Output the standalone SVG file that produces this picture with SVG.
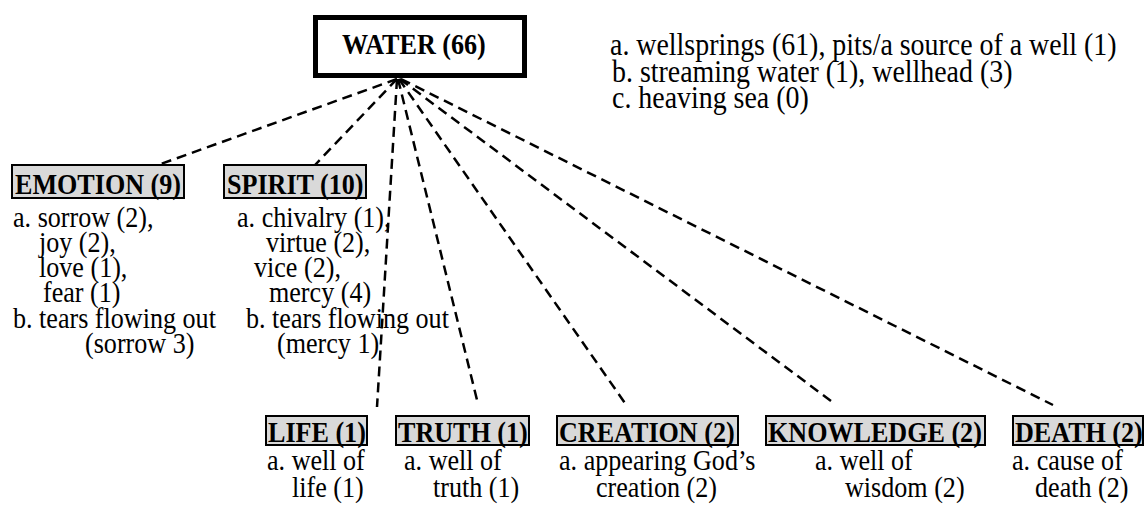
<svg xmlns="http://www.w3.org/2000/svg" width="1147" height="508" viewBox="0 0 1147 508">
  <style>
    text { font-family: "Liberation Serif", "Times New Roman", serif; font-size: 29px; fill: #000; }
    .hd { font-weight: bold; font-size: 30px; }
    .note { font-size: 31px; }
    .cat { fill: #d9d9d9; stroke: #000; stroke-width: 2; }
    .link { stroke: #000; stroke-width: 2.5; stroke-dasharray: 10 6; fill: none; }
  </style>
  <rect width="1147" height="508" fill="#fff"/>

  <!-- dashed links fanning out from the root box -->
  <g id="connectors">
    <line class="link" x1="397" y1="79" x2="158" y2="165"/>
    <line class="link" x1="397" y1="79" x2="315" y2="165"/>
    <line class="link" x1="397" y1="79" x2="377" y2="407"/>
    <line class="link" x1="398" y1="79" x2="478" y2="404"/>
    <line class="link" x1="399" y1="79" x2="627" y2="406"/>
    <line class="link" x1="400" y1="79" x2="835" y2="404"/>
    <line class="link" x1="401" y1="79" x2="1053" y2="405"/>
  </g>

  <!-- root -->
  <g id="water">
    <rect x="315.5" y="17.5" width="209" height="58" fill="#fff" stroke="#000" stroke-width="5"/>
    <text class="hd" transform="translate(342 54) scale(.87 1)">WATER (66)</text>
  </g>

  <g id="water-notes">
    <text class="note" transform="translate(610 55) scale(.9 1)">a. wellsprings (61), pits/a source of a well (1)</text>
    <text class="note" transform="translate(612 82) scale(.9 1)">b. streaming water (1), wellhead (3)</text>
    <text class="note" transform="translate(612 108) scale(.9 1)">c. heaving sea (0)</text>
  </g>

  <g id="emotion">
    <rect class="cat" x="12" y="165" width="172" height="33"/>
    <text class="hd" transform="translate(15 194) scale(.87 1)">EMOTION (9)</text>
    <text transform="translate(13 227) scale(.9 1)">a. sorrow (2),</text>
    <text transform="translate(39 252) scale(.9 1)">joy (2),</text>
    <text transform="translate(39 277) scale(.9 1)">love (1),</text>
    <text transform="translate(43 302) scale(.9 1)">fear (1)</text>
    <text transform="translate(13 328) scale(.9 1)">b. tears flowing out</text>
    <text transform="translate(85 353) scale(.9 1)">(sorrow 3)</text>
  </g>

  <g id="spirit">
    <rect class="cat" x="224" y="165" width="142" height="33"/>
    <text class="hd" transform="translate(227 194) scale(.87 1)">SPIRIT (10)</text>
    <text transform="translate(237 227) scale(.9 1)">a. chivalry (1),</text>
    <text transform="translate(266 252) scale(.9 1)">virtue (2),</text>
    <text transform="translate(254 277) scale(.9 1)">vice (2),</text>
    <text transform="translate(269 302) scale(.9 1)">mercy (4)</text>
    <text transform="translate(246 328) scale(.9 1)">b. tears flowing out</text>
    <text transform="translate(277 353) scale(.9 1)">(mercy 1)</text>
  </g>

  <g id="life">
    <rect class="cat" x="266" y="416" width="101" height="29"/>
    <text class="hd" transform="translate(268 442) scale(.87 1)">LIFE (1)</text>
    <text transform="translate(267 470) scale(.9 1)">a. well of</text>
    <text transform="translate(292 497) scale(.9 1)">life (1)</text>
  </g>

  <g id="truth">
    <rect class="cat" x="396" y="416" width="133" height="29"/>
    <text class="hd" transform="translate(398 442) scale(.87 1)">TRUTH (1)</text>
    <text transform="translate(404 470) scale(.9 1)">a. well of</text>
    <text transform="translate(433 497) scale(.9 1)">truth (1)</text>
  </g>

  <g id="creation">
    <rect class="cat" x="557" y="416" width="181" height="29"/>
    <text class="hd" transform="translate(559 442) scale(.87 1)">CREATION (2)</text>
    <text transform="translate(559 470) scale(.9 1)">a. appearing God’s</text>
    <text transform="translate(596 497) scale(.9 1)">creation (2)</text>
  </g>

  <g id="knowledge">
    <rect class="cat" x="766" y="416" width="219" height="29"/>
    <text class="hd" transform="translate(768 442) scale(.87 1)">KNOWLEDGE (2)</text>
    <text transform="translate(815 470) scale(.9 1)">a. well of</text>
    <text transform="translate(845 497) scale(.9 1)">wisdom (2)</text>
  </g>

  <g id="death">
    <rect class="cat" x="1013" y="416" width="130" height="29"/>
    <text class="hd" transform="translate(1015 442) scale(.87 1)">DEATH (2)</text>
    <text transform="translate(1012 470) scale(.9 1)">a. cause of</text>
    <text transform="translate(1035 497) scale(.9 1)">death (2)</text>
  </g>
</svg>
